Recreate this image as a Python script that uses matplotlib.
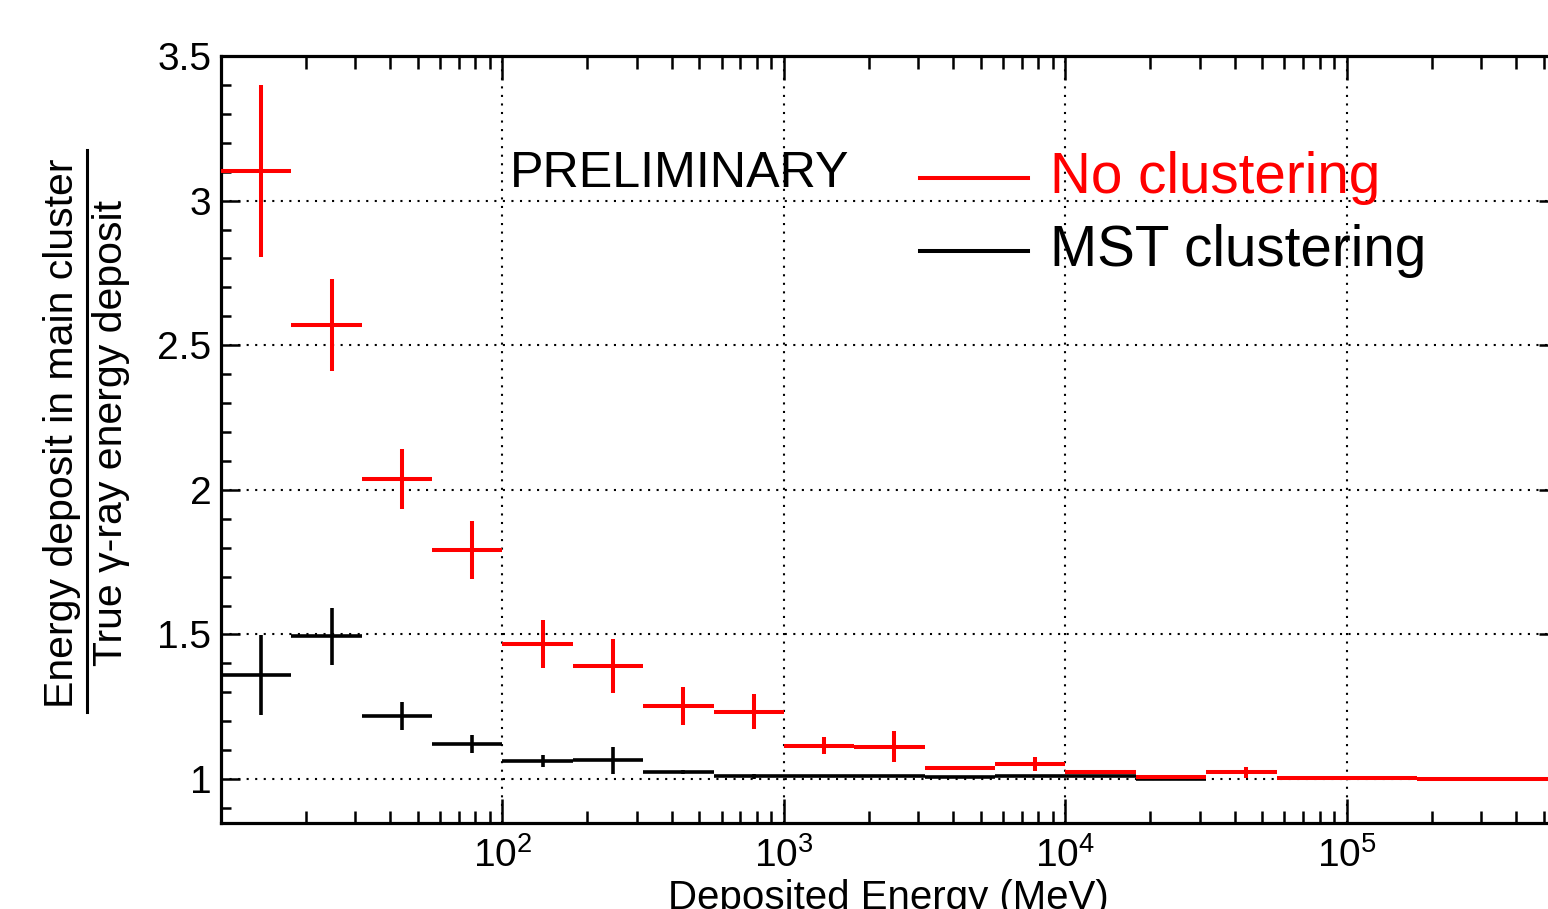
import numpy as np
import matplotlib
matplotlib.use("Agg")
import matplotlib.pyplot as plt
from matplotlib.lines import Line2D
from matplotlib.ticker import FixedLocator, MultipleLocator, NullFormatter, FormatStrFormatter, LogLocator

plt.rcParams['font.family'] = ['Liberation Sans', 'DejaVu Sans']
plt.rcParams['mathtext.fontset'] = 'custom'
plt.rcParams['mathtext.rm'] = 'Liberation Sans'
plt.rcParams['mathtext.it'] = 'Liberation Sans:italic'

# bin edges (MeV), quarter-decade binning
bin_lo = [10, 17.78, 31.62, 56.23, 100, 177.8, 316.2, 562.3, 1000, 1778,
          3162, 5623, 10000, 17780, 31620, 56230, 100000, 177800, 316200]
bin_hi = [17.78, 31.62, 56.23, 100, 177.8, 316.2, 562.3, 1000, 1778, 3162,
          5623, 10000, 17780, 31620, 56230, 100000, 177800, 316200, 562300]

# No clustering (red)
red_val = [3.103, 2.570, 2.037, 1.792, 1.467, 1.391, 1.253, 1.233, 1.115, 1.112,
           1.037, 1.052, 1.023, 1.008, 1.023, 1.002, 1.002, 1.001, 1.000]
red_err = [0.298, 0.158, 0.104, 0.100, 0.083, 0.092, 0.066, 0.060, 0.030, 0.053,
           0.005, 0.025, 0.007, 0.004, 0.018, 0.002, 0.002, 0.002, 0.002]

# MST clustering (black)
blk_val = [1.361, 1.493, 1.219, 1.121, 1.063, 1.065, 1.025, 1.009, 1.011, 1.011,
           1.008, 1.011, 1.011, 1.000]
blk_err = [0.138, 0.097, 0.049, 0.032, 0.020, 0.047, 0.007, 0.010, 0.004, 0.004,
           0.003, 0.003, 0.003, 0.002]

W, H = 1548, 909
fig = plt.figure(figsize=(W / 100, H / 100), dpi=100)
ax = fig.add_axes([221 / W, 1 - 823 / H, (1558 - 221) / W, (823 - 56) / H])

lo = np.array(bin_lo)
hi = np.array(bin_hi)
cen = (lo + hi) / 2

nb = len(blk_val)
ax.errorbar(cen[:nb], blk_val, xerr=[cen[:nb] - lo[:nb], hi[:nb] - cen[:nb]], yerr=blk_err,
            fmt='none', ecolor='black', elinewidth=2.6, capsize=0, zorder=3)
ax.errorbar(cen, red_val, xerr=[cen - lo, hi - cen], yerr=red_err,
            fmt='none', ecolor='#ff0000', elinewidth=2.9, capsize=0, zorder=4)

ax.set_xscale('log')
ax.set_xlim(10, 562300)
ax.set_ylim(0.848, 3.5)

ax.xaxis.set_major_locator(FixedLocator([1e2, 1e3, 1e4, 1e5]))
ax.xaxis.set_minor_locator(LogLocator(base=10, subs=np.arange(2, 10), numticks=20))
ax.xaxis.set_minor_formatter(NullFormatter())
ax.yaxis.set_major_locator(MultipleLocator(0.5))
ax.yaxis.set_minor_locator(MultipleLocator(0.1))
ax.yaxis.set_major_formatter(FormatStrFormatter('%g'))

ax.tick_params(which='both', direction='in', top=True, right=True, width=1.8, labelsize=28)
ax.tick_params(axis='x', which='major', length=17, pad=10)
ax.tick_params(axis='x', which='minor', length=9)
ax.tick_params(axis='y', which='major', length=14, pad=7)
ax.tick_params(axis='y', which='minor', length=7)
for s in ax.spines.values():
    s.set_linewidth(2.3)

ax.grid(True, which='major', color='black', linestyle=(0, (1, 3.1)), linewidth=1.5)
ax.set_axisbelow(True)

# y-axis title as a fraction
ycen = 1 - 433 / H
fig.text(62 / W, ycen, 'Energy deposit in main cluster', rotation=90,
         ha='center', va='center', fontsize=29.5)
fig.text(111 / W, ycen, 'True \u03b3-ray energy deposit', rotation=90,
         ha='center', va='center', fontsize=29.5)
fig.add_artist(Line2D([87 / W, 87 / W], [1 - 150 / H, 1 - 712 / H],
                      transform=fig.transFigure, color='black', lw=2.2))

# x-axis title (partly cut by the bottom edge, as in the original)
fig.text(888 / W, 1 - 909 / H, 'Deposited Energy (MeV)', ha='center', va='baseline', fontsize=29)

fig.text(510 / W, 1 - 187 / H, 'PRELIMINARY', ha='left', va='baseline', fontsize=36.2)

# legend
for yy, col, lab in [(178, '#ff0000', 'No clustering'), (251, 'black', 'MST clustering')]:
    fig.add_artist(Line2D([920 / W, 1028 / W], [1 - yy / H, 1 - yy / H],
                          transform=fig.transFigure, color=col, lw=2.9))
    fig.text(1050 / W, 1 - (yy + 15) / H, lab, color=col, ha='left', va='baseline', fontsize=40.8)

fig.savefig('out.png', dpi=100)
